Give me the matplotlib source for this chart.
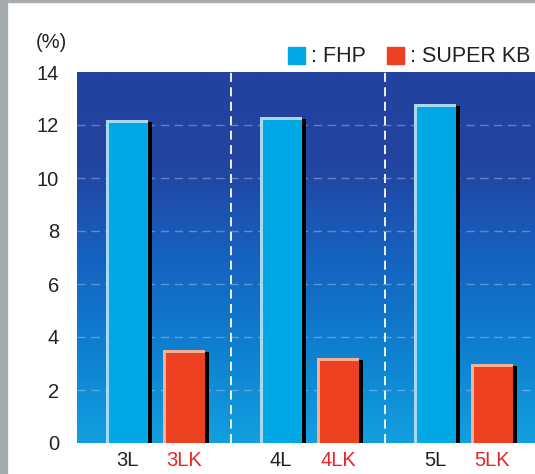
import numpy as np
import matplotlib.pyplot as plt
from matplotlib.colors import LinearSegmentedColormap
from matplotlib.patches import Rectangle

plt.rcParams['font.family'] = ['Liberation Sans', 'DejaVu Sans']

# data
groups = ['3', '4', '5']
fhp_labels = ['3L', '4L', '5L']
kb_labels = ['3LK', '4LK', '5LK']
fhp_values = [12.2, 12.3, 12.8]
kb_values = [3.5, 3.2, 3.0]
yticks = [0, 2, 4, 6, 8, 10, 12, 14]

W, H = 535, 474
fig = plt.figure(figsize=(W / 100, H / 100), dpi=100)
fig.patch.set_facecolor('white')

# gray frame strips
fig.patches.append(Rectangle((0, 0), 7 / W, 1, transform=fig.transFigure,
                             color='#a6acae', zorder=0))
fig.patches.append(Rectangle((0, 1 - 2 / H), 1, 2 / H, transform=fig.transFigure,
                             color='#a6acae', zorder=0))

ax = fig.add_axes([77 / W, 1 - 443 / H, 1 - 77 / W, (443 - 72) / H])
ax.set_xlim(0, (535 - 77) / 154)
ax.set_ylim(0, 14)

# background gradient
cmap = LinearSegmentedColormap.from_list('bg', ['#129fdf', '#0f80d0', '#1562bf', '#2344a2', '#2442a0'])
grad = np.linspace(0, 1, 256).reshape(-1, 1)
ax.imshow(grad, cmap=cmap, aspect='auto', extent=[0, 1, 0, 1],
          transform=ax.transAxes, origin='lower', zorder=0)

# gridlines and separators
for t in yticks[1:-1]:
    ax.axhline(t, color='#b8c8e8', lw=1.0, ls=(0, (6, 4)), alpha=0.45, zorder=1)
for g in range(1, len(groups)):
    ax.axvline(g, color='white', lw=1.3, ls=(0, (5, 3)), zorder=1)

idx = np.arange(len(groups))
w = 0.273
x1 = idx + 0.325
x2 = idx + 0.695
dx = 0.026   # shadow offset
bev_x = 0.022
bev_y = 0.12


def bevel_bars(xc, vals, main, light):
    vals = np.array(vals)
    ax.bar(xc + dx, vals - 0.08, w, color='black', zorder=2)
    ax.bar(xc, vals, w, color=light, zorder=3)
    ax.bar(xc + bev_x / 2, vals - bev_y, w - bev_x, color=main, zorder=4)


bevel_bars(x1, fhp_values, '#00a9e6', '#a9d9ee')
bevel_bars(x2, kb_values, '#ee4122', '#f6ae94')

# axes styling
for s in ax.spines.values():
    s.set_visible(False)
ax.set_yticks(yticks)
ax.set_yticklabels([str(t) for t in yticks], fontsize=14.5, color='#222222')
ax.tick_params(axis='y', length=0, pad=13)
ax.set_xticks(np.concatenate([x1, x2]))
ax.set_xticklabels(fhp_labels + kb_labels, fontsize=14.5)
ax.tick_params(axis='x', length=0, pad=6)
for lab in ax.get_xticklabels():
    if lab.get_text().endswith('K'):
        lab.set_color('#e8262a')
    else:
        lab.set_color('#222222')

# unit label
fig.text(51 / W, 1 - 43 / H, '(%)', fontsize=14.5, ha='center', va='center', color='#222222')

# legend
fig.patches.append(Rectangle((288 / W, 1 - 64 / H), 17 / W, 17 / H,
                             transform=fig.transFigure, color='#00a9e6'))
fig.text(311 / W, 1 - 56 / H, ': FHP', fontsize=15.5, ha='left', va='center', color='#222222')
fig.patches.append(Rectangle((387 / W, 1 - 64 / H), 17 / W, 17 / H,
                             transform=fig.transFigure, color='#ee4122'))
fig.text(410 / W, 1 - 56 / H, ': SUPER KB', fontsize=15.5, ha='left', va='center', color='#222222')

fig.savefig('out.png', dpi=100)
